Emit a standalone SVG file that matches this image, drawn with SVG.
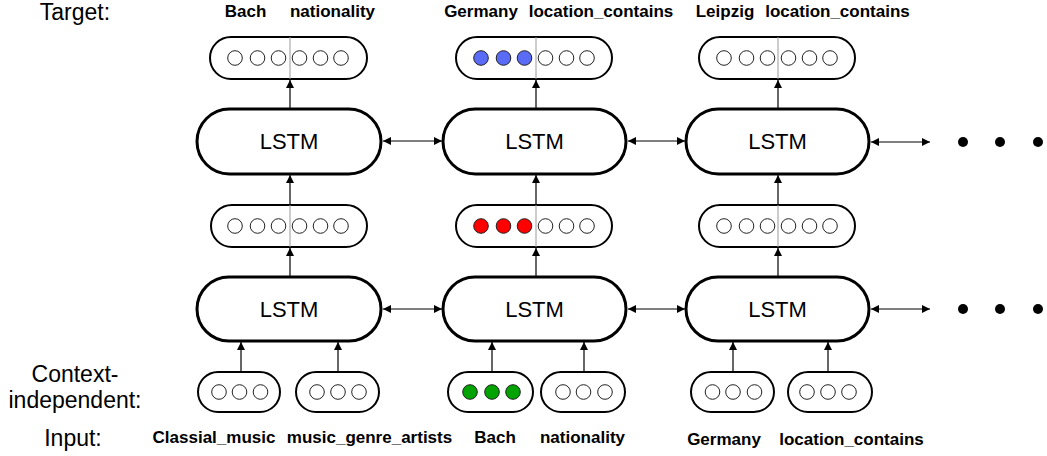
<svg xmlns="http://www.w3.org/2000/svg" width="1047" height="456" viewBox="0 0 1047 456">
<style>
.lstm{fill:#fff;stroke:#000;stroke-width:3}
.vec{fill:#fff;stroke:#000;stroke-width:2}
.c{fill:#fff;stroke:#222;stroke-width:1}
.blue{fill:#5a6cf6}
.red{fill:#f00}
.green{fill:#00a300}
.div{stroke:#999;stroke-width:1}
.ln{stroke:#000;stroke-width:1.2;fill:none}
.lt{font-family:"Liberation Sans",Arial,sans-serif;font-size:22px;text-anchor:middle}
.side{font-family:"Liberation Sans",Arial,sans-serif;font-size:23px;text-anchor:middle}
.lab{font-family:"Liberation Sans",Arial,sans-serif;font-size:17px;font-weight:bold;text-anchor:middle}
.dot{fill:#000}
</style>
<defs>
<marker id="ah" viewBox="0 0 10 10" refX="10" refY="5" markerWidth="9" markerHeight="8" markerUnits="userSpaceOnUse" orient="auto-start-reverse">
<path d="M0,0 L10,5 L0,10 z" fill="#000"/>
</marker>
</defs>

<g id="labels">
<text class="side" x="75" y="20">Target:</text>
<text class="side" x="75" y="382">Context-</text>
<text class="side" x="75" y="408">independent:</text>
<text class="side" x="73" y="446">Input:</text>
<text class="lab" x="245.5" y="17">Bach</text>
<text class="lab" x="332.5" y="17">nationality</text>
<text class="lab" x="481" y="17">Germany</text>
<text class="lab" x="601" y="17">location_contains</text>
<text class="lab" x="725" y="17">Leipzig</text>
<text class="lab" x="837.5" y="17">location_contains</text>
<text class="lab" x="214" y="443">Classial_music</text>
<text class="lab" x="369.5" y="443">music_genre_artists</text>
<text class="lab" x="495" y="443">Bach</text>
<text class="lab" x="582.5" y="443">nationality</text>
<text class="lab" x="724" y="445">Germany</text>
<text class="lab" x="851.5" y="445">location_contains</text>
</g>

<g id="connectors">
<line class="ln" x1="290" y1="109" x2="290" y2="80" marker-end="url(#ah)"/>
<line class="ln" x1="536" y1="109" x2="536" y2="80" marker-end="url(#ah)"/>
<line class="ln" x1="778" y1="109" x2="778" y2="80" marker-end="url(#ah)"/>
<line class="ln" x1="290" y1="205" x2="290" y2="175" marker-end="url(#ah)"/>
<line class="ln" x1="536" y1="205" x2="536" y2="175" marker-end="url(#ah)"/>
<line class="ln" x1="778" y1="205" x2="778" y2="175" marker-end="url(#ah)"/>
<line class="ln" x1="290" y1="277" x2="290" y2="248" marker-end="url(#ah)"/>
<line class="ln" x1="536" y1="277" x2="536" y2="248" marker-end="url(#ah)"/>
<line class="ln" x1="778" y1="277" x2="778" y2="248" marker-end="url(#ah)"/>
<line class="ln" x1="241" y1="372" x2="241" y2="342" marker-end="url(#ah)"/>
<line class="ln" x1="338" y1="372" x2="338" y2="342" marker-end="url(#ah)"/>
<line class="ln" x1="492" y1="372" x2="492" y2="342" marker-end="url(#ah)"/>
<line class="ln" x1="584" y1="372" x2="584" y2="342" marker-end="url(#ah)"/>
<line class="ln" x1="733" y1="372" x2="733" y2="342" marker-end="url(#ah)"/>
<line class="ln" x1="828" y1="372" x2="828" y2="342" marker-end="url(#ah)"/>
<line class="ln" x1="383" y1="141" x2="442" y2="141" marker-start="url(#ah)" marker-end="url(#ah)"/>
<line class="ln" x1="628" y1="141" x2="685" y2="141" marker-start="url(#ah)" marker-end="url(#ah)"/>
<line class="ln" x1="871" y1="142" x2="930" y2="142" marker-start="url(#ah)" marker-end="url(#ah)"/>
<line class="ln" x1="383" y1="309" x2="442" y2="309" marker-start="url(#ah)" marker-end="url(#ah)"/>
<line class="ln" x1="628" y1="309" x2="685" y2="309" marker-start="url(#ah)" marker-end="url(#ah)"/>
<line class="ln" x1="871" y1="309" x2="930" y2="309" marker-start="url(#ah)" marker-end="url(#ah)"/>
</g>

<g id="lstm-top-1"><rect class="lstm" x="197" y="109" width="184" height="65" rx="32.5"/><text class="lt" x="289" y="149">LSTM</text></g>
<g id="lstm-top-2"><rect class="lstm" x="443" y="109" width="183" height="65" rx="32.5"/><text class="lt" x="534.5" y="149">LSTM</text></g>
<g id="lstm-top-3"><rect class="lstm" x="686" y="109" width="183" height="65" rx="32.5"/><text class="lt" x="777.5" y="149">LSTM</text></g>
<g id="lstm-bot-1"><rect class="lstm" x="197" y="277" width="184" height="64" rx="32"/><text class="lt" x="289" y="317">LSTM</text></g>
<g id="lstm-bot-2"><rect class="lstm" x="443" y="277" width="183" height="64" rx="32"/><text class="lt" x="534.5" y="317">LSTM</text></g>
<g id="lstm-bot-3"><rect class="lstm" x="686" y="277" width="183" height="64" rx="32"/><text class="lt" x="777.5" y="317">LSTM</text></g>

<g id="out-1">
<rect class="vec" x="210" y="37" width="157" height="42" rx="21"/>
<line class="div" x1="290" y1="37" x2="290" y2="79"/>
<circle class="c" cx="235" cy="58" r="7.3"/><circle class="c" cx="257.5" cy="58" r="7.3"/><circle class="c" cx="278.5" cy="58" r="7.3"/>
<circle class="c" cx="299.5" cy="58" r="7.3"/><circle class="c" cx="320.5" cy="58" r="7.3"/><circle class="c" cx="341" cy="58" r="7.3"/>
</g>
<g id="out-2">
<rect class="vec" x="456" y="37" width="156" height="42" rx="21"/>
<line class="div" x1="536" y1="37" x2="536" y2="79"/>
<circle class="c blue" cx="481" cy="58" r="7.3"/><circle class="c blue" cx="503.5" cy="58" r="7.3"/><circle class="c blue" cx="524.5" cy="58" r="7.3"/>
<circle class="c" cx="545.5" cy="58" r="7.3"/><circle class="c" cx="566.5" cy="58" r="7.3"/><circle class="c" cx="587" cy="58" r="7.3"/>
</g>
<g id="out-3">
<rect class="vec" x="699" y="37" width="156" height="42" rx="21"/>
<line class="div" x1="778" y1="37" x2="778" y2="79"/>
<circle class="c" cx="724" cy="58" r="7.3"/><circle class="c" cx="746.5" cy="58" r="7.3"/><circle class="c" cx="767.5" cy="58" r="7.3"/>
<circle class="c" cx="788.5" cy="58" r="7.3"/><circle class="c" cx="809.5" cy="58" r="7.3"/><circle class="c" cx="830" cy="58" r="7.3"/>
</g>

<g id="hid-1">
<rect class="vec" x="211" y="205" width="156" height="42" rx="21"/>
<line class="div" x1="290" y1="205" x2="290" y2="247"/>
<circle class="c" cx="235" cy="226" r="7.3"/><circle class="c" cx="257.5" cy="226" r="7.3"/><circle class="c" cx="278.5" cy="226" r="7.3"/>
<circle class="c" cx="299.5" cy="226" r="7.3"/><circle class="c" cx="320.5" cy="226" r="7.3"/><circle class="c" cx="341" cy="226" r="7.3"/>
</g>
<g id="hid-2">
<rect class="vec" x="456" y="205" width="156" height="42" rx="21"/>
<line class="div" x1="536" y1="205" x2="536" y2="247"/>
<circle class="c red" cx="481" cy="226" r="7.3"/><circle class="c red" cx="503.5" cy="226" r="7.3"/><circle class="c red" cx="524.5" cy="226" r="7.3"/>
<circle class="c" cx="545.5" cy="226" r="7.3"/><circle class="c" cx="566.5" cy="226" r="7.3"/><circle class="c" cx="587" cy="226" r="7.3"/>
</g>
<g id="hid-3">
<rect class="vec" x="699" y="205" width="156" height="42" rx="21"/>
<line class="div" x1="778" y1="205" x2="778" y2="247"/>
<circle class="c" cx="724" cy="226" r="7.3"/><circle class="c" cx="746.5" cy="226" r="7.3"/><circle class="c" cx="767.5" cy="226" r="7.3"/>
<circle class="c" cx="788.5" cy="226" r="7.3"/><circle class="c" cx="809.5" cy="226" r="7.3"/><circle class="c" cx="830" cy="226" r="7.3"/>
</g>

<g id="in-classial">
<rect class="vec" x="198" y="372" width="82" height="40" rx="20"/>
<circle class="c" cx="219" cy="392" r="7.3"/><circle class="c" cx="239.5" cy="392" r="7.3"/><circle class="c" cx="260.5" cy="392" r="7.3"/>
</g>
<g id="in-genre">
<rect class="vec" x="296" y="372" width="83" height="40" rx="20"/>
<circle class="c" cx="317" cy="392" r="7.3"/><circle class="c" cx="338" cy="392" r="7.3"/><circle class="c" cx="359" cy="392" r="7.3"/>
</g>
<g id="in-bach">
<rect class="vec" x="448" y="372" width="85" height="40" rx="20"/>
<circle class="c green" cx="470" cy="392" r="7.3"/><circle class="c green" cx="492" cy="392" r="7.3"/><circle class="c green" cx="513" cy="392" r="7.3"/>
</g>
<g id="in-nationality">
<rect class="vec" x="541" y="372" width="84" height="40" rx="20"/>
<circle class="c" cx="563" cy="392" r="7.3"/><circle class="c" cx="583.5" cy="392" r="7.3"/><circle class="c" cx="605" cy="392" r="7.3"/>
</g>
<g id="in-germany">
<rect class="vec" x="691" y="372" width="83" height="40" rx="20"/>
<circle class="c" cx="712.5" cy="392" r="7.3"/><circle class="c" cx="733" cy="392" r="7.3"/><circle class="c" cx="754.5" cy="392" r="7.3"/>
</g>
<g id="in-location">
<rect class="vec" x="788" y="372" width="84" height="40" rx="20"/>
<circle class="c" cx="807" cy="392" r="7.3"/><circle class="c" cx="828" cy="392" r="7.3"/><circle class="c" cx="849" cy="392" r="7.3"/>
</g>

<g id="ellipsis-top"><circle class="dot" cx="963" cy="142" r="5"/><circle class="dot" cx="1000" cy="142" r="5"/><circle class="dot" cx="1038" cy="142" r="5"/></g>
<g id="ellipsis-bot"><circle class="dot" cx="963" cy="309" r="5"/><circle class="dot" cx="1000" cy="309" r="5"/><circle class="dot" cx="1038" cy="309" r="5"/></g>
</svg>
